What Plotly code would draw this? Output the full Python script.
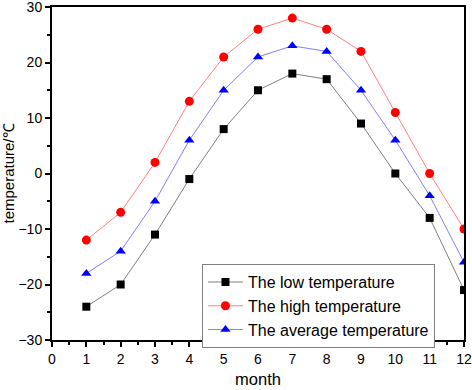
import plotly.graph_objects as go

months = [1, 2, 3, 4, 5, 6, 7, 8, 9, 10, 11, 12]
low_temp = [-24, -20, -11, -1, 8, 15, 18, 17, 9, 0, -8, -21]
high_temp = [-12, -7, 2, 13, 21, 26, 28, 26, 22, 11, 0, -10]
avg_temp = [-18, -14, -5, 6, 15, 21, 23, 22, 15, 6, -4, -16]

names = ["The low temperature", "The high temperature", "The average temperature"]

fig = go.Figure()
fig.add_trace(go.Scatter(x=months, y=low_temp, name=names[0], mode="lines+markers",
                         line=dict(color="#808080", width=1),
                         marker=dict(symbol="square", size=8, color="black")))
fig.add_trace(go.Scatter(x=months, y=high_temp, name=names[1], mode="lines+markers",
                         line=dict(color="#ff8080", width=1),
                         marker=dict(symbol="circle", size=9, color="red")))
fig.add_trace(go.Scatter(x=months, y=avg_temp, name=names[2], mode="lines+markers",
                         line=dict(color="#8080ff", width=1),
                         marker=dict(symbol="triangle-up", size=9, color="blue")))

font = "Liberation Sans, Arial, sans-serif"
fig.update_layout(
    width=472, height=390,
    margin=dict(l=52, r=8, t=7, b=50, autoexpand=False),
    plot_bgcolor="white", paper_bgcolor="white",
    font=dict(family=font, size=14, color="black"),
    showlegend=True,
    legend=dict(x=0.364, y=0.228, xanchor="left", yanchor="top",
                bordercolor="#808080", borderwidth=1, bgcolor="white",
                font=dict(size=16), tracegroupgap=0, itemwidth=35),
)
fig.update_xaxes(range=[0, 12], dtick=1, tick0=0, showgrid=False, zeroline=False,
                 automargin=False, ticklabeloverflow="allow",
                 showline=True, linecolor="black", linewidth=2, mirror=True,
                 ticks="outside", ticklen=5, tickwidth=1.5, tickcolor="black",
                 minor=dict(ticks="outside", ticklen=3, dtick=0.5, tickcolor="black", tickwidth=1.5),
                 title=dict(text="month", font=dict(size=16.5), standoff=8),
                 tickfont=dict(size=14))
fig.update_yaxes(range=[-30, 30], dtick=10, tick0=0, showgrid=False, zeroline=False,
                 automargin=False, ticklabeloverflow="allow",
                 showline=True, linecolor="black", linewidth=2, mirror=True,
                 ticks="outside", ticklen=5, tickwidth=1.5, tickcolor="black",
                 minor=dict(ticks="outside", ticklen=3, dtick=5, tickcolor="black", tickwidth=1.5),
                 title=dict(text="temperature/℃", font=dict(size=15), standoff=2),
                 tickfont=dict(size=14))

fig.write_html("out.html", config={"displayModeBar": False},
               post_script="document.body.style.margin='0';")
